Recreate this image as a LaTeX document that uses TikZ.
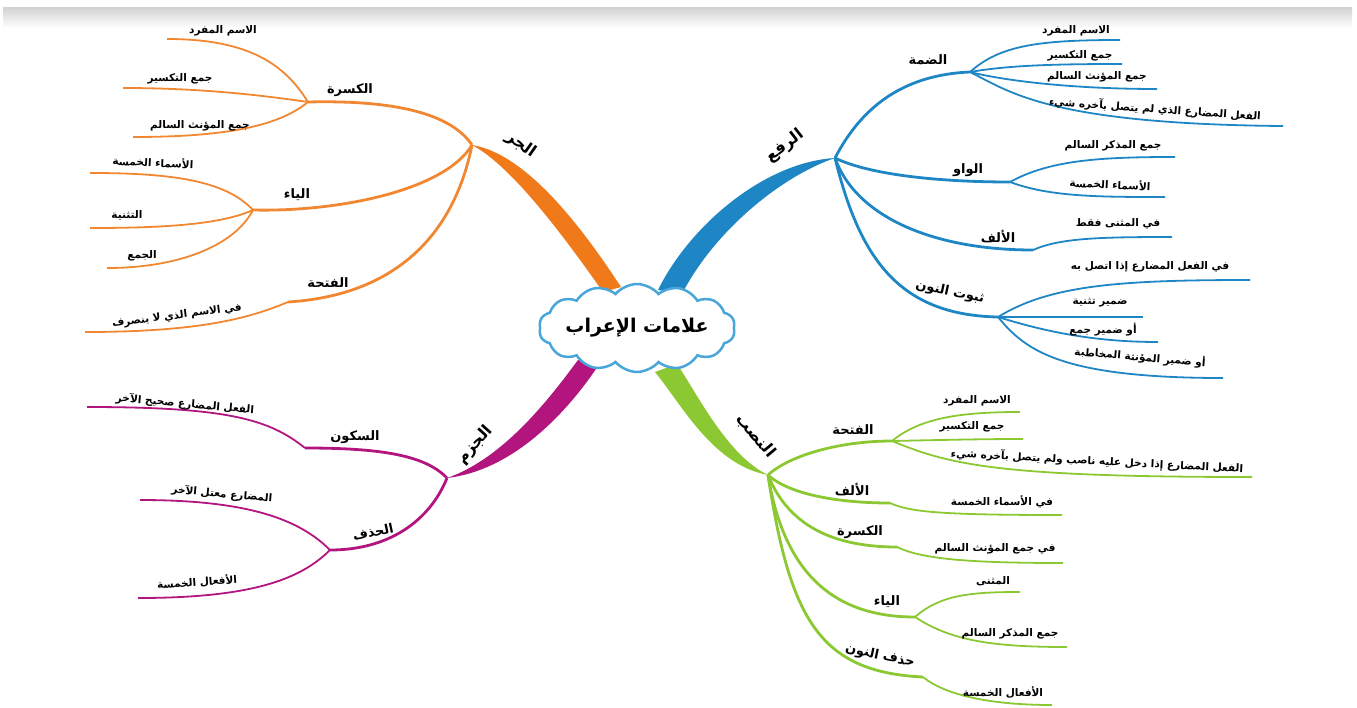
\documentclass[tikz,border=0pt]{standalone}
\usepackage{fontspec}
\usetikzlibrary{shapes.symbols}
\newfontfamily\arabicfont[Script=Arabic]{DejaVu Sans}
\TeXXeTstate=1
\newcommand{\arb}[1]{\arabicfont\beginR #1\endR}
\definecolor{jarr}{HTML}{F07A1A}
\definecolor{rafa}{HTML}{1E86C4}
\definecolor{jazm}{HTML}{B3157F}
\definecolor{nasb}{HTML}{8CC832}
\definecolor{cloudblue}{HTML}{4AA6DA}

\begin{document}
\begin{tikzpicture}[x=1pt, y=-1pt,
    mid/.style={line width=2.8pt},
    leaf/.style={line width=1.8pt},
    mainlbl/.style={font=\fontsize{16}{18}\selectfont\bfseries},
    sublbl/.style={font=\fontsize{13}{15}\selectfont\bfseries},
    leaflbl/.style={font=\fontsize{10.5}{12}\selectfont\bfseries}]
        \useasboundingbox (0,0) rectangle (1357,707);
        \shade[top color=black!18, bottom color=white] (3,7) rectangle (1352,28);

        \coordinate (jar) at (472,145);
        \coordinate (raf) at (835,158);
        \coordinate (jzm) at (447,478);
        \coordinate (nsb) at (768,475);

        \coordinate (jkas) at (308,102);
        \coordinate (jkas1) at (167,39);
        \coordinate (jkas2) at (123,88);
        \coordinate (jkas3) at (133,137);
        \coordinate (jya) at (253,210);
        \coordinate (jya1) at (90,173);
        \coordinate (jya2) at (90,228);
        \coordinate (jya3) at (107,268);
        \coordinate (jfat) at (288,302);
        \coordinate (jfat1) at (85,332);

        \coordinate (zsuk) at (305,448);
        \coordinate (zsuk1) at (87,407);
        \coordinate (zhaz) at (330,550);
        \coordinate (zhaz1) at (140,500);
        \coordinate (zhaz2) at (138,598);

        \coordinate (rdam) at (970,72);
        \coordinate (rdam1) at (1120,40);
        \coordinate (rdam2) at (1122,64);
        \coordinate (rdam3) at (1157,89);
        \coordinate (rdam4) at (1283,126);
        \coordinate (rwaw) at (1010,182);
        \coordinate (rwaw1) at (1175,157);
        \coordinate (rwaw2) at (1165,197);
        \coordinate (ralf) at (1033,250);
        \coordinate (ralf1) at (1172,237);
        \coordinate (rnun) at (998,317);
        \coordinate (rnun1) at (1250,280);
        \coordinate (rnun2) at (1143,317);
        \coordinate (rnun3) at (1158,342);
        \coordinate (rnun4) at (1223,378);

        \coordinate (nfat) at (892,441);
        \coordinate (nfat1) at (1020,412);
        \coordinate (nfat2) at (1023,439);
        \coordinate (nfat3) at (1252,477);
        \coordinate (nalf) at (890,503);
        \coordinate (nalf1) at (1062,515);
        \coordinate (nkas) at (897,547);
        \coordinate (nkas1) at (1063,563);
        \coordinate (nya) at (915,617);
        \coordinate (nya1) at (1020,592);
        \coordinate (nya2) at (1067,647);
        \coordinate (nhnun) at (923,677);
        \coordinate (nhnun1) at (1052,705);

        \fill[jarr] (603,292) .. controls (565,238) and (512,166) .. (jar)
            .. controls (528,154) and (585,232) .. (621,287) -- cycle;
        \fill[rafa] (658,290) .. controls (690,225) and (765,162) .. (raf)
            .. controls (777,178) and (712,235) .. (682,294) -- cycle;
        \fill[jazm] (578,360) .. controls (552,395) and (505,458) .. (jzm)
            .. controls (516,470) and (570,408) .. (598,366) -- cycle;
        \fill[nasb] (655,372) .. controls (682,405) and (713,465) .. (nsb)
            .. controls (727,455) and (698,395) .. (677,364) -- cycle;

        \begin{scope}[draw=jarr!90!white]
        \draw[mid] (jar) .. controls (450,112) and (390,100) .. (jkas);
        \draw[mid] (jar) .. controls (445,190) and (340,212) .. (jya);
        \draw[mid] (jar) .. controls (455,230) and (400,295) .. (jfat);
        \draw[leaf] (jkas) .. controls (285,65) and (250,39) .. (jkas1);
        \draw[leaf] (jkas) .. controls (260,95) and (200,88) .. (jkas2);
        \draw[leaf] (jkas) .. controls (280,125) and (230,137) .. (jkas3);
        \draw[leaf] (jya) .. controls (225,180) and (170,173) .. (jya1);
        \draw[leaf] (jya) .. controls (220,225) and (160,228) .. (jya2);
        \draw[leaf] (jya) .. controls (235,245) and (180,268) .. (jya3);
        \draw[leaf] (jfat) .. controls (250,318) and (200,332) .. (jfat1);
        \end{scope}

        \begin{scope}[draw=jazm]
        \draw[mid] (jzm) .. controls (425,455) and (380,448) .. (zsuk);
        \draw[mid] (jzm) .. controls (430,520) and (390,550) .. (zhaz);
        \draw[leaf] (zsuk) .. controls (270,420) and (230,407) .. (zsuk1);
        \draw[leaf] (zhaz) .. controls (300,520) and (250,500) .. (zhaz1);
        \draw[leaf] (zhaz) .. controls (300,580) and (250,598) .. (zhaz2);
        \end{scope}

        \begin{scope}[draw=rafa]
        \draw[mid] (raf) .. controls (860,110) and (900,75) .. (rdam);
        \draw[mid] (raf) .. controls (870,175) and (940,182) .. (rwaw);
        \draw[mid] (raf) .. controls (855,215) and (930,250) .. (ralf);
        \draw[mid] (raf) .. controls (860,260) and (900,315) .. (rnun);
        \draw[leaf] (rdam) .. controls (1000,45) and (1040,40) .. (rdam1);
        \draw[leaf] (rdam) .. controls (1010,65) and (1060,64) .. (rdam2);
        \draw[leaf] (rdam) .. controls (1010,82) and (1080,89) .. (rdam3);
        \draw[leaf] (rdam) .. controls (1010,92) and (1050,124) .. (rdam4);
        \draw[leaf] (rwaw) .. controls (1050,160) and (1100,157) .. (rwaw1);
        \draw[leaf] (rwaw) .. controls (1050,197) and (1100,197) .. (rwaw2);
        \draw[leaf] (ralf) .. controls (1060,238) and (1100,237) .. (ralf1);
        \draw[leaf] (rnun) .. controls (1050,285) and (1120,280) .. (rnun1);
        \draw[leaf] (rnun) .. controls (1050,317) and (1100,317) .. (rnun2);
        \draw[leaf] (rnun) .. controls (1040,330) and (1090,342) .. (rnun3);
        \draw[leaf] (rnun) .. controls (1025,350) and (1060,378) .. (rnun4);
        \end{scope}

        \begin{scope}[draw=nasb]
        \draw[mid] (nsb) .. controls (790,455) and (840,441) .. (nfat);
        \draw[mid] (nsb) .. controls (790,495) and (840,503) .. (nalf);
        \draw[mid] (nsb) .. controls (790,530) and (840,547) .. (nkas);
        \draw[mid] (nsb) .. controls (785,580) and (840,617) .. (nya);
        \draw[mid] (nsb) .. controls (790,620) and (820,672) .. (nhnun);
        \draw[leaf] (nfat) .. controls (920,418) and (960,412) .. (nfat1);
        \draw[leaf] (nfat) .. controls (940,440) and (980,439) .. (nfat2);
        \draw[leaf] (nfat) .. controls (950,465) and (1000,477) .. (nfat3);
        \draw[leaf] (nalf) .. controls (910,512) and (940,515) .. (nalf1);
        \draw[leaf] (nkas) .. controls (920,558) and (960,563) .. (nkas1);
        \draw[leaf] (nya) .. controls (940,595) and (970,592) .. (nya1);
        \draw[leaf] (nya) .. controls (950,640) and (990,647) .. (nya2);
        \draw[leaf] (nhnun) .. controls (945,695) and (990,705) .. (nhnun1);
        \end{scope}

        \node[cloud, cloud puffs=14, cloud puff arc=100, aspect=2.3, draw=cloudblue,
            line width=2.5pt, fill=white, minimum width=196pt, minimum height=88pt,
            inner sep=0pt] (irab) at (637,328) {};
        \node[font=\fontsize{19}{22}\selectfont\bfseries] (irab-t) at (irab.center) {\arb{علامات الإعراب}};

        \node[mainlbl, rotate=-35] (l-jar) at (521,145) {\arb{الجر}};
        \node[mainlbl, rotate=38] (l-raf) at (785,146) {\arb{الرفع}};
        \node[mainlbl, rotate=48] (l-jzm) at (475,445) {\arb{الجزم}};
        \node[mainlbl, rotate=-50] (l-nsb) at (756,436) {\arb{النصب}};

        \node[sublbl] (l-jkas) at (350,90) {\arb{الكسرة}};
        \node[sublbl] (l-jya) at (297,195) {\arb{الياء}};
        \node[sublbl] (l-jfat) at (328,283) {\arb{الفتحة}};
        \node[sublbl] (l-zsuk) at (355,437) {\arb{السكون}};
        \node[sublbl, rotate=12] (l-zhaz) at (373,532) {\arb{الحذف}};
        \node[sublbl] (l-rdam) at (928,60) {\arb{الضمة}};
        \node[sublbl] (l-rwaw) at (968,170) {\arb{الواو}};
        \node[sublbl] (l-ralf) at (998,237) {\arb{الألف}};
        \node[sublbl, rotate=-12] (l-rnun) at (950,292) {\arb{ثبوت النون}};
        \node[sublbl] (l-nfat) at (853,430) {\arb{الفتحة}};
        \node[sublbl] (l-nalf) at (852,490) {\arb{الألف}};
        \node[sublbl] (l-nkas) at (860,532) {\arb{الكسرة}};
        \node[sublbl] (l-nya) at (887,602) {\arb{الياء}};
        \node[sublbl, rotate=-12] (l-nhnun) at (880,656) {\arb{حذف النون}};

        \node[leaflbl] (t-jkas1) at (223,31) {\arb{الاسم المفرد}};
        \node[leaflbl] (t-jkas2) at (180,79) {\arb{جمع التكسير}};
        \node[leaflbl] (t-jkas3) at (200,126) {\arb{جمع المؤنث السالم}};
        \node[leaflbl, rotate=-3] (t-jya1) at (153,162) {\arb{الأسماء الخمسة}};
        \node[leaflbl] (t-jya2) at (127,215) {\arb{التثنية}};
        \node[leaflbl] (t-jya3) at (142,256) {\arb{الجمع}};
        \node[leaflbl, rotate=7] (t-jfat1) at (177,316) {\arb{في الاسم الذي لا ينصرف}};
        \node[leaflbl, rotate=-5] (t-zsuk1) at (185,404) {\arb{الفعل المضارع صحيح الآخر}};
        \node[leaflbl, rotate=-5] (t-zhaz1) at (222,494) {\arb{المضارع معتل الآخر}};
        \node[leaflbl, rotate=4] (t-zhaz2) at (197,582) {\arb{الأفعال الخمسة}};

        \node[leaflbl] (t-rdam1) at (1076,31) {\arb{الاسم المفرد}};
        \node[leaflbl] (t-rdam2) at (1080,56) {\arb{جمع التكسير}};
        \node[leaflbl] (t-rdam3) at (1097,77) {\arb{جمع المؤنث السالم}};
        \node[leaflbl, rotate=-4] (t-rdam4) at (1155,109) {\arb{الفعل المضارع الذي لم يتصل بآخره شيء}};
        \node[leaflbl] (t-rwaw1) at (1113,146) {\arb{جمع المذكر السالم}};
        \node[leaflbl, rotate=-3] (t-rwaw2) at (1110,184) {\arb{الأسماء الخمسة}};
        \node[leaflbl] (t-ralf1) at (1118,224) {\arb{في المثنى فقط}};
        \node[leaflbl] (t-rnun1) at (1150,267) {\arb{في الفعل المضارع إذا اتصل به}};
        \node[leaflbl] (t-rnun2) at (1100,303) {\arb{ضمير تثنية}};
        \node[leaflbl] (t-rnun3) at (1103,330) {\arb{أو ضمير جمع}};
        \node[leaflbl, rotate=-5] (t-rnun4) at (1140,357) {\arb{أو ضمير المؤنثة المخاطبة}};

        \node[leaflbl] (t-nfat1) at (977,401) {\arb{الاسم المفرد}};
        \node[leaflbl] (t-nfat2) at (972,427) {\arb{جمع التكسير}};
        \node[leaflbl, rotate=-3] (t-nfat3) at (1097,461) {\arb{الفعل المضارع إذا دخل عليه ناصب ولم يتصل بآخره شيء}};
        \node[leaflbl] (t-nalf1) at (1002,502) {\arb{في الأسماء الخمسة}};
        \node[leaflbl] (t-nkas1) at (995,549) {\arb{في جمع المؤنث السالم}};
        \node[leaflbl] (t-nya1) at (993,581) {\arb{المثنى}};
        \node[leaflbl] (t-nya2) at (1010,634) {\arb{جمع المذكر السالم}};
        \node[leaflbl] (t-nhnun1) at (1003,692) {\arb{الأفعال الخمسة}};
    \end{tikzpicture}
\end{document}
